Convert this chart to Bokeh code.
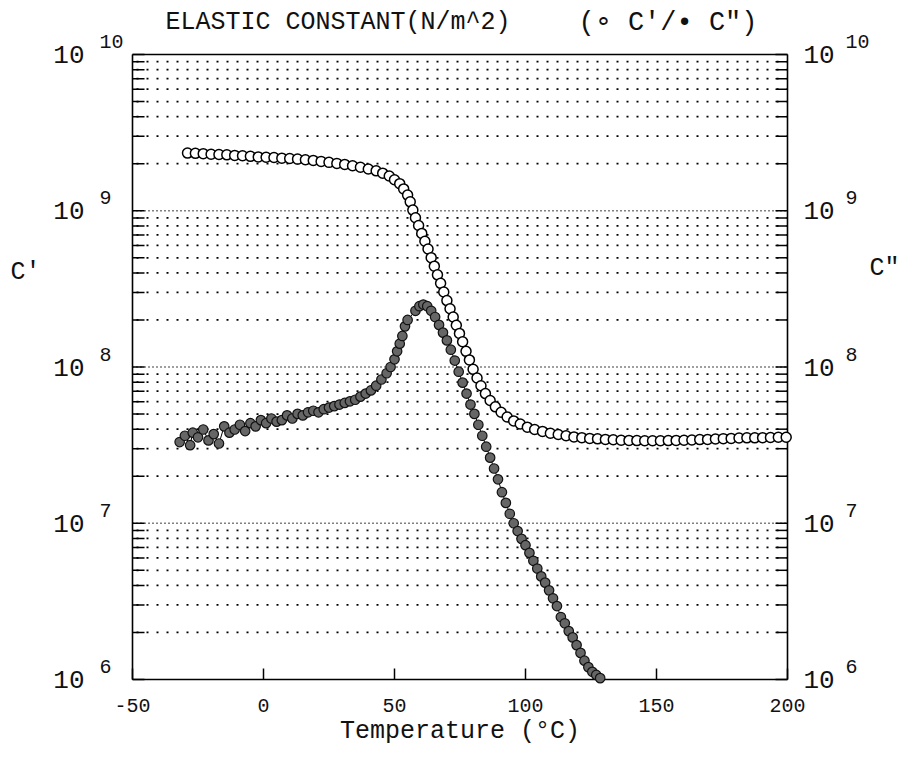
from bokeh.plotting import figure
from bokeh.models import ColumnDataSource, Range1d
from bokeh.core.properties import value
from bokeh.embed import file_html
from bokeh.resources import INLINE

# ---------------- data ----------------
# C' (storage constant, open circles)
c1_temp = [-29, -26, -23, -20, -17, -14, -11, -8, -5, -2, 1, 4, 7, 10, 13, 16, 19, 22, 25, 28,
           31, 34, 37, 40, 43, 45.5, 48, 50, 52, 53.5, 55, 56, 57, 58, 59.2, 60.4, 61.6, 62.8,
           64, 65.2, 66.4, 67.6, 68.8, 70, 71.2, 72.4, 73.6, 74.8, 76, 77.3, 78.6, 80, 81.5, 83,
           84.7, 86.5, 88.5, 90.7, 93, 95.5, 98, 100.7, 103.5, 106.5, 109.5, 112.5, 115.5, 118.5,
           121.5, 124.5, 127.5, 130.5, 133.5, 136.5, 139.5, 142.5, 145.5, 148.5, 151.5, 154.5,
           157.5, 160.5, 163.5, 166.5, 169.5, 172.5, 175.5, 178.5, 181.5, 184.5, 187.5, 190.5,
           193.5, 196.5, 199.5]
c1_value = [2.34e9, 2.33e9, 2.32e9, 2.30e9, 2.29e9, 2.28e9, 2.26e9, 2.25e9, 2.23e9, 2.21e9,
            2.20e9, 2.19e9, 2.17e9, 2.16e9, 2.14e9, 2.12e9, 2.10e9, 2.07e9, 2.04e9, 2.01e9,
            1.98e9, 1.94e9, 1.90e9, 1.85e9, 1.80e9, 1.74e9, 1.67e9, 1.58e9, 1.49e9, 1.38e9,
            1.26e9, 1.14e9, 1.01e9, 9.02e8, 8.04e8, 7.16e8, 6.38e8, 5.69e8, 5.01e8, 4.42e8,
            3.89e8, 3.43e8, 3.02e8, 2.66e8, 2.36e8, 2.09e8, 1.85e8, 1.64e8, 1.45e8, 1.26e8,
            1.11e8, 9.66e7, 8.51e7, 7.59e7, 6.76e7, 6.10e7, 5.56e7, 5.13e7, 4.79e7, 4.52e7,
            4.32e7, 4.12e7, 3.98e7, 3.87e7, 3.77e7, 3.70e7, 3.63e7, 3.57e7, 3.53e7, 3.49e7,
            3.47e7, 3.44e7, 3.42e7, 3.40e7, 3.39e7, 3.38e7, 3.37e7, 3.37e7, 3.37e7, 3.38e7,
            3.39e7, 3.40e7, 3.41e7, 3.43e7, 3.44e7, 3.46e7, 3.48e7, 3.49e7, 3.51e7, 3.52e7,
            3.52e7, 3.53e7, 3.54e7, 3.55e7, 3.55e7]

# C'' (loss constant, filled circles)
c2_temp = [-32, -30, -28, -27, -25, -23, -21, -19, -17, -15, -13, -11, -9, -7, -5, -3, -1, 1, 3,
           5, 7, 9, 11, 13, 15, 17, 19, 21, 23, 25, 27, 29, 31, 33, 35, 37, 39, 41, 43, 45, 47,
           48.5, 50, 51, 52, 53, 54, 55, 58, 59.5, 61, 62.5, 64, 65.5, 67, 68.5, 70, 71.5, 73,
           74.5, 76, 77.5, 79, 80.5, 82, 83.5, 85, 86.5, 88, 89.5, 91, 92.5, 94, 95.5, 97, 98.5,
           100, 101.5, 103, 104.5, 106, 107.5, 109, 110.5, 112, 113.5, 115, 116.5, 118, 119.5,
           121, 122.5, 124, 125.5, 127, 128.5]
c2_value = [3.31e7, 3.63e7, 3.16e7, 3.80e7, 3.55e7, 3.98e7, 3.39e7, 3.72e7, 3.24e7, 4.17e7,
            3.80e7, 3.98e7, 4.27e7, 3.89e7, 4.37e7, 4.17e7, 4.57e7, 4.37e7, 4.68e7, 4.47e7,
            4.57e7, 4.90e7, 4.68e7, 5.01e7, 4.90e7, 5.13e7, 5.25e7, 5.13e7, 5.37e7, 5.50e7,
            5.62e7, 5.75e7, 5.89e7, 6.03e7, 6.17e7, 6.46e7, 6.76e7, 7.08e7, 7.59e7, 8.32e7,
            9.12e7, 1.00e8, 1.12e8, 1.26e8, 1.41e8, 1.58e8, 1.82e8, 2.00e8, 2.29e8, 2.45e8,
            2.51e8, 2.45e8, 2.29e8, 2.09e8, 1.86e8, 1.66e8, 1.48e8, 1.29e8, 1.10e8, 9.33e7,
            7.94e7, 6.76e7, 5.75e7, 5.01e7, 4.27e7, 3.63e7, 3.09e7, 2.63e7, 2.24e7, 1.91e7,
            1.58e7, 1.35e7, 1.15e7, 1.00e7, 8.91e6, 7.94e6, 7.24e6, 6.46e6, 5.75e6, 5.13e6,
            4.57e6, 4.17e6, 3.72e6, 3.31e6, 2.95e6, 2.51e6, 2.29e6, 2.04e6, 1.86e6, 1.66e6,
            1.48e6, 1.32e6, 1.20e6, 1.12e6, 1.07e6, 1.02e6]

x_ticks = [-50, 0, 50, 100, 150, 200]
x_tick_labels = ["-50", "0", "50", "100", "150", "200"]
decade_exponents = [6, 7, 8, 9, 10]
minor_mantissas = [2, 3, 4, 5, 6, 7, 8, 9]

title_left = "ELASTIC CONSTANT(N/m^2)"
title_right = "(\u2218 C'/\u2022 C\")"
x_title = "Temperature (\u00b0C)"
y_left_title = "C'"
y_right_title = "C\""

FONT = "Liberation Mono"
INK = "#111111"

# ---------------- layout geometry (pixels) ----------------
W, H = 911, 757
FL, FR, FT, FB = 132, 787, 54, 679          # plot box edges in the picture
XMIN, XMAX = x_ticks[0], x_ticks[-1]
EMIN, EMAX = decade_exponents[0], decade_exponents[-1]
XPX = (XMAX - XMIN) / (FR - FL)              # data units per pixel (x)
EPX = (EMAX - EMIN) / (FB - FT)              # decades per pixel (y)


def xd(px):
    return XMIN + (px - FL) * XPX


def yd(py):
    return 10.0 ** (EMAX - (py - FT) * EPX)


p = figure(width=W, height=H, x_range=Range1d(xd(0), xd(W)), y_range=Range1d(yd(H), yd(0)),
           y_axis_type="log", output_backend="svg", toolbar_location=None, title=None,
           x_axis_location=None, y_axis_location=None,
           min_border_left=0, min_border_right=0, min_border_top=0, min_border_bottom=0)
p.outline_line_color = None
p.xgrid.visible = False
p.ygrid.visible = False
p.background_fill_color = "white"
p.border_fill_color = "white"

major_vals = [10.0 ** e for e in decade_exponents]
minor_vals = [m * 10.0 ** e for e in decade_exponents[:-1] for m in minor_mantissas]
all_vals = sorted(major_vals + minor_vals)
ylo, yhi = major_vals[0], major_vals[-1]

# grid lines (dotted; decades denser)
p.segment(x0=[XMIN] * len(minor_vals), y0=minor_vals, x1=[XMAX] * len(minor_vals), y1=minor_vals,
          line_color="black", line_width=1.7, line_dash="2 8", line_dash_offset=-4)
p.segment(x0=[XMIN] * 3, y0=major_vals[1:-1], x1=[XMAX] * 3, y1=major_vals[1:-1],
          line_color="black", line_width=1.3, line_dash="1 3")

# y ticks (inside) on both sides
tick_len_x = 12 * XPX
p.segment(x0=[XMIN] * len(all_vals), y0=all_vals, x1=[XMIN + tick_len_x] * len(all_vals),
          y1=all_vals, line_color="black", line_width=1.5)
p.segment(x0=[XMAX] * len(all_vals), y0=all_vals, x1=[XMAX - tick_len_x] * len(all_vals),
          y1=all_vals, line_color="black", line_width=1.5)
# x ticks (inside)
tick_top = 10.0 ** (EMIN + 11 * EPX)
p.segment(x0=x_ticks, y0=[ylo] * len(x_ticks), x1=x_ticks, y1=[tick_top] * len(x_ticks),
          line_color="black", line_width=1.5)

# plot box
p.segment(x0=[XMIN, XMIN, XMIN, XMAX], y0=[ylo, yhi, ylo, ylo],
          x1=[XMAX, XMAX, XMIN, XMAX], y1=[ylo, yhi, yhi, yhi],
          line_color="black", line_width=1.6)

# data
src1 = ColumnDataSource(dict(x=c1_temp, y=c1_value))
src2 = ColumnDataSource(dict(x=c2_temp, y=c2_value))
p.line("x", "y", source=src1, line_color="black", line_width=1)
p.line("x", "y", source=src2, line_color="black", line_width=1)
p.scatter("x", "y", source=src1, marker="circle", size=10, fill_color="white",
          line_color="black", line_width=1.5)
p.scatter("x", "y", source=src2, marker="circle", size=9.5, fill_color="#666666",
          line_color="#111111", line_width=1.2)

# x tick labels and axis title
p.text(x=x_ticks, y=[yd(705)] * len(x_ticks), text=x_tick_labels, text_align="center",
       text_baseline="middle", text_font=value(FONT), text_font_size="20px", text_color=INK)
p.text(x=[xd((FL + FR) / 2)], y=[yd(731)], text=[x_title], text_align="center",
       text_baseline="middle", text_font=value(FONT), text_font_size="25px", text_color=INK)

# decade labels: "10" with raised exponent, both sides
exp_raise = 10.0 ** (13 * EPX)
ten_y = major_vals
exp_y = [v * exp_raise for v in major_vals]
exp_txt = [str(e) for e in decade_exponents]
n = len(major_vals)
p.text(x=[xd(84)] * n, y=ten_y, text=["10"] * n, text_align="right", text_baseline="middle",
       text_font=value(FONT), text_font_size="26px", text_color=INK)
p.text(x=[xd(99)] * n, y=exp_y, text=exp_txt, text_align="left", text_baseline="middle",
       text_font=value(FONT), text_font_size="20px", text_color=INK)
p.text(x=[xd(803)] * n, y=ten_y, text=["10"] * n, text_align="left", text_baseline="middle",
       text_font=value(FONT), text_font_size="26px", text_color=INK)
p.text(x=[xd(845)] * n, y=exp_y, text=exp_txt, text_align="left", text_baseline="middle",
       text_font=value(FONT), text_font_size="20px", text_color=INK)

# titles
p.text(x=[xd(165)], y=[yd(22)], text=[title_left], text_align="left", text_baseline="middle",
       text_font=value(FONT), text_font_size="25px", text_color=INK)
p.text(x=[xd(578)], y=[yd(22)], text=[title_right], text_align="left", text_baseline="middle",
       text_font=value(FONT), text_font_size="27px", text_color=INK)
p.text(x=[xd(10)], y=[yd(272)], text=[y_left_title], text_align="left", text_baseline="middle",
       text_font=value(FONT), text_font_size="25px", text_color=INK)
p.text(x=[xd(869)], y=[yd(268)], text=[y_right_title], text_align="left",
       text_baseline="middle", text_font=value(FONT), text_font_size="25px", text_color=INK)

open("out.html", "w").write(file_html(p, INLINE))
